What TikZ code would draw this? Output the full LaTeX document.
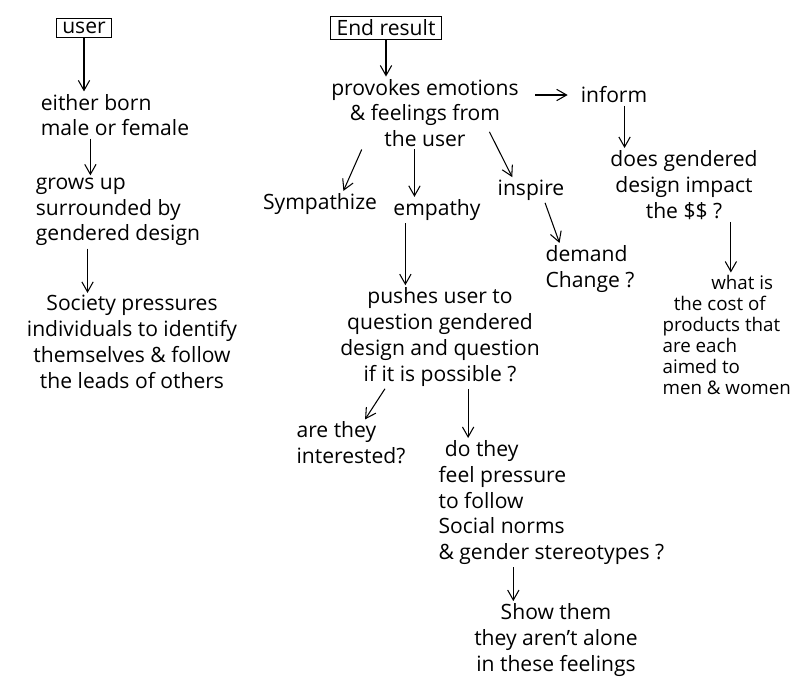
\documentclass[tikz,border=0pt]{standalone}
\usepackage{fontspec}
\setmainfont{Open Sans}
\usetikzlibrary{arrows.meta}

\begin{document}
\begin{tikzpicture}[x=0.03cm, y=-0.03cm,
    txt/.style={font=\fontsize{18}{22}\selectfont, align=left, inner sep=2pt},
    small/.style={font=\fontsize{16}{18}\selectfont, align=left, inner sep=2pt},
    title/.style={draw, line width=1.2pt, font=\fontsize{18}{20}\selectfont, inner xsep=5pt, inner ysep=3pt},
    arr/.style={-{Straight Barb[length=3mm,width=3.4mm]}, line width=0.9pt}]
    \useasboundingbox (0,0) rectangle (793,694);
    % left column
    \node[title] (user) at (84,28) {user};
    \node[txt] (born) at (115,115) {either born\\male or female};
    \node[txt] (grows) at (118,212) {grows up\\surrounded by\\gendered design};
    \node[txt, align=center] (society) at (132,342) {Society pressures\\individuals to identify\\themselves \& follow\\the leads of others};
    % right part
    \node[title] (end) at (386,28) {End result};
    \node[txt, align=center] (emo) at (425,113) {provokes emotions\\\& feelings from\\the user};
    \node[txt] (inform) at (614,95) {inform};
    \node[txt, align=center] (impact) at (684,185) {does gendered\\design impact\\the \$\$ ?};
    \node[small, anchor=west] (cost) at (660,335) {\hspace*{2.6em}what is\\\hspace*{0.6em}the cost of\\products that\\are each\\aimed to\\men \& women};
    \node[txt] (sym) at (320,204) {Sympathize};
    \node[txt] (emp) at (437,210) {empathy};
    \node[txt] (insp) at (531,190) {inspire};
    \node[txt] (demand) at (590,269) {demand\\Change ?};
    \node[txt, align=center] (push) at (440,337) {pushes user to\\question gendered\\design and question\\if it is possible ?};
    \node[txt] (inter) at (351,443) {are they\\interested?};
    \node[txt, anchor=north west] (pressure) at (436,438) {\hspace*{0.3em}do they\\feel pressure\\to follow\\Social norms\\\& gender stereotypes ?};
    \node[txt, align=center] (alone) at (556,640) {Show them\\they aren't alone\\in these feelings};

    \draw[arr] (user.south) -- (user.south |- born.north);
    \draw[arr] ([xshift=-21pt]born.south) -- ([xshift=-21pt]born.south |- grows.north);
    \draw[arr] ([xshift=-26pt]grows.south) -- ([xshift=-26pt]grows.south |- society.north);
    \draw[arr] (end.south) -- (end.south |- emo.north);
    \draw[arr, shorten <=12pt, shorten >=9pt] (inform.west -| emo.east) -- (inform.west);
    \draw[arr] ([xshift=9pt]inform.south) -- ([xshift=9pt]inform.south |- impact.north);
    \draw[arr] ([xshift=40pt]impact.south) -- ([xshift=40pt]impact.south |- cost.north);
    \draw[arr] ([xshift=-54pt]emo.south) -- ([xshift=20pt]sym.north);
    \draw[arr] ([xshift=-9pt]emo.south) -- ([xshift=-9pt]emo.south |- emp.north);
    \draw[arr] ([xshift=55pt,yshift=15pt]emo.south) -- ([xshift=-16pt]insp.north);
    \draw[arr] ([xshift=12pt]insp.south) -- ([xshift=-26pt]demand.north);
    \draw[arr] ([xshift=-27pt]emp.south) -- ([xshift=-27pt]emp.south |- push.north);
    \draw[arr] ([xshift=-47pt]push.south) -- ([xshift=12pt]inter.north);
    \draw[arr] ([xshift=24pt]push.south) -- ([xshift=24pt]push.south |- pressure.north);
    \draw[arr] ([xshift=66pt]pressure.south west) -- ([xshift=66pt]pressure.south west |- alone.north);
\end{tikzpicture}
\end{document}
